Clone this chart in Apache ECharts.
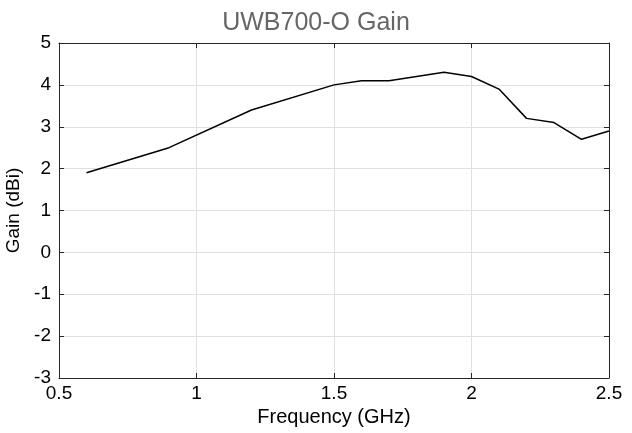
<!DOCTYPE html>
<html><head><meta charset="utf-8">
<script src="https://cdn.jsdelivr.net/npm/echarts@6/dist/echarts.min.js"></script>
<style>html,body{margin:0;padding:0;background:#fff}#c{width:632px;height:433px}</style>
</head><body><div id="c"></div>
<script>
const freq = [0.6, 0.9, 1.2, 1.5, 1.6, 1.7, 1.9, 2.0, 2.1, 2.2, 2.3, 2.4, 2.5];
const gain = [1.9, 2.5, 3.4, 4.0, 4.1, 4.1, 4.3, 4.2, 3.9, 3.2, 3.1, 2.7, 2.9];
const titleText = 'UWB700-O Gain';
const xName = 'Frequency (GHz)';
const yName = 'Gain (dBi)';
const font = 'Liberation Sans, Arial, Helvetica, sans-serif';
const axCol = '#262626';
const common = {
  axisLine: {show: true, onZero: false, lineStyle: {color: axCol, width: 1}},
  axisTick: {show: true, inside: true, length: 5, lineStyle: {color: axCol}},
  splitLine: {show: false}
};
const chart = echarts.init(document.getElementById('c'));
chart.setOption({
  animation: false,
  title: {text: titleText, left: 'center', top: 6, textStyle: {fontFamily: font, fontSize: 25, fontWeight: 'normal', color: '#666'}},
  grid: {left: 59, right: 23, top: 43, bottom: 55, outerBoundsMode: 'none', containLabel: false},
  xAxis: [
    Object.assign({type: 'value', min: 0.5, max: 2.5, interval: 0.5, position: 'bottom',
      name: xName, nameLocation: 'middle', nameGap: 26,
      nameTextStyle: {fontFamily: font, fontSize: 20, color: '#000'},
      axisLabel: {fontFamily: font, fontSize: 19, color: '#000', margin: 6}}, common,
      {splitLine: {show: true, lineStyle: {color: '#e0e0e0', width: 1}}}),
    Object.assign({type: 'value', min: 0.5, max: 2.5, interval: 0.5, position: 'top', axisLabel: {show: false}}, common)
  ],
  yAxis: [
    Object.assign({type: 'value', min: -3, max: 5, interval: 1, position: 'left',
      name: yName, nameLocation: 'middle', nameGap: 29,
      nameTextStyle: {fontFamily: font, fontSize: 19, color: '#000'},
      axisLabel: {fontFamily: font, fontSize: 19, color: '#000', margin: 8}}, common,
      {splitLine: {show: true, lineStyle: {color: '#e0e0e0', width: 1}}}),
    Object.assign({type: 'value', min: -3, max: 5, interval: 1, position: 'right', axisLabel: {show: false}}, common)
  ],
  series: [{
    type: 'line', data: freq.map((f, i) => [f, gain[i]]),
    showSymbol: false, lineStyle: {color: '#000', width: 1.5}, itemStyle: {color: '#000'}
  }]
});
</script></body></html>
